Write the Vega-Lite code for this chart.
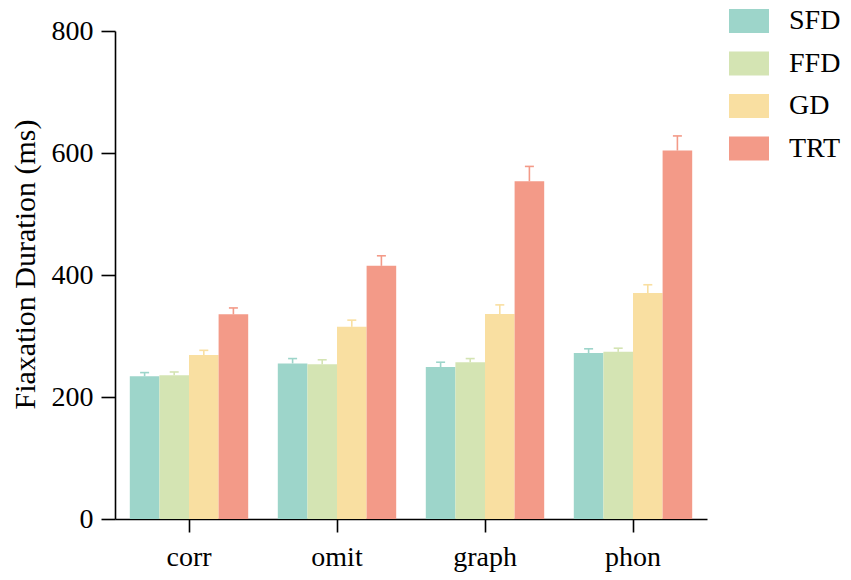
{
  "$schema": "https://vega.github.io/schema/vega-lite/v6.json",
  "autosize": {"type": "none"},
  "padding": {"left": 115, "top": 31, "right": 144, "bottom": 61},
  "width": 592,
  "height": 488,
  "background": "white",
  "config": {
    "view": {"stroke": null},
    "axis": {
      "domainColor": "black", "domainWidth": 1.6, "tickColor": "black", "tickWidth": 1.6,
      "labelFont": "Liberation Serif", "labelFontSize": 28, "labelColor": "black",
      "titleFont": "Liberation Serif", "titleFontSize": 30, "titleFontWeight": "normal", "titleColor": "black",
      "grid": false
    },
    "legend": {
      "labelFont": "Liberation Serif", "labelFontSize": 28, "labelColor": "black"
    }
  },
  "data": {
    "values": [
      {"condition": "corr", "measure": "SFD", "value": 234, "hi": 240},
      {"condition": "corr", "measure": "FFD", "value": 235.5, "hi": 241},
      {"condition": "corr", "measure": "GD", "value": 269, "hi": 276.5},
      {"condition": "corr", "measure": "TRT", "value": 335.5, "hi": 346},
      {"condition": "omit", "measure": "SFD", "value": 255, "hi": 263},
      {"condition": "omit", "measure": "FFD", "value": 253.6, "hi": 261},
      {"condition": "omit", "measure": "GD", "value": 315, "hi": 326},
      {"condition": "omit", "measure": "TRT", "value": 415, "hi": 431.5},
      {"condition": "graph", "measure": "SFD", "value": 249, "hi": 257},
      {"condition": "graph", "measure": "FFD", "value": 257, "hi": 263},
      {"condition": "graph", "measure": "GD", "value": 336, "hi": 351},
      {"condition": "graph", "measure": "TRT", "value": 553.6, "hi": 578},
      {"condition": "phon", "measure": "SFD", "value": 272, "hi": 279},
      {"condition": "phon", "measure": "FFD", "value": 274, "hi": 280},
      {"condition": "phon", "measure": "GD", "value": 370.5, "hi": 384},
      {"condition": "phon", "measure": "TRT", "value": 604, "hi": 628}
    ]
  },
  "encoding": {
    "x": {
      "field": "condition", "type": "nominal", "sort": ["corr", "omit", "graph", "phon"],
      "scale": {"paddingInner": 0.2, "paddingOuter": 0.1},
      "axis": {"title": null, "labelAngle": 0, "tickSize": 13, "labelPadding": 11}
    },
    "xOffset": {
      "field": "measure", "type": "nominal", "sort": ["SFD", "FFD", "GD", "TRT"],
      "scale": {"paddingInner": 0, "paddingOuter": 0}
    },
    "color": {
      "field": "measure", "type": "nominal", "sort": ["SFD", "FFD", "GD", "TRT"],
      "scale": {"domain": ["SFD", "FFD", "GD", "TRT"], "range": ["#9DD5CA", "#D4E4B3", "#F9DFA1", "#F39A88"]},
      "legend": {
        "title": null, "orient": "none", "legendX": 614, "legendY": -30,
        "symbolType": "M-1,-0.6H1V0.6H-1Z", "symbolSize": 1600, "symbolStrokeWidth": 0,
        "symbolOpacity": 1, "labelOffset": 20, "rowPadding": 8.5
      }
    }
  },
  "layer": [
    {
      "mark": {"type": "bar", "opacity": 1},
      "encoding": {
        "y": {
          "field": "value", "type": "quantitative", "scale": {"domain": [0, 800]},
          "axis": {"values": [0, 200, 400, 600, 800], "title": "Fiaxation Duration (ms)", "tickSize": 14, "labelPadding": 8, "titlePadding": 11, "titleY": 233}
        }
      }
    },
    {
      "mark": {"type": "rule", "strokeWidth": 1.6},
      "encoding": {
        "y": {"field": "value", "type": "quantitative"},
        "y2": {"field": "hi"}
      }
    },
    {
      "mark": {"type": "tick", "thickness": 1.6, "size": 9, "orient": "horizontal", "opacity": 1},
      "encoding": {
        "y": {"field": "hi", "type": "quantitative"}
      }
    }
  ]
}
